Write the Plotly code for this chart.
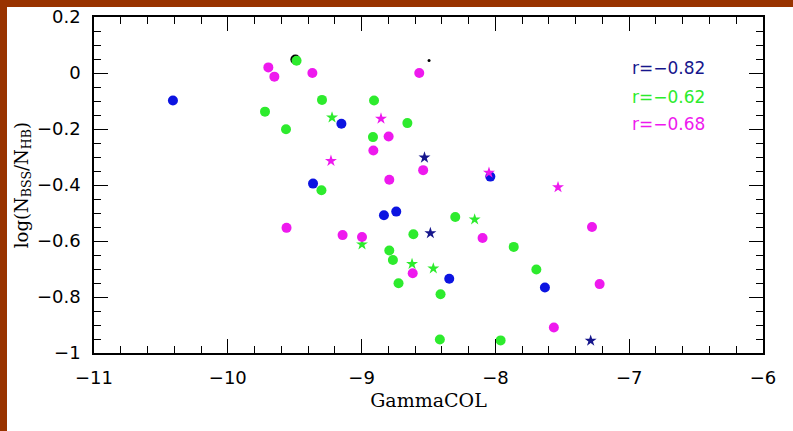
import plotly.graph_objects as go

# GammaCOL vs log(N_BSS/N_HB) for three samples; circles and stars per sample
blue_circ_x = [-10.41, -9.151, -9.363, -8.038, -8.833, -8.741, -8.345, -7.630]
blue_circ_y = [-0.098, -0.181, -0.395, -0.370, -0.508, -0.495, -0.735, -0.766]
blue_star_x = [-8.530, -8.486, -7.288]
blue_star_y = [-0.302, -0.572, -0.956]

green_circ_x = [-9.486, -9.296, -9.722, -9.565, -9.300, -8.907, -8.915, -8.658, -8.613,
                -8.793, -8.766, -8.724, -8.410, -8.415, -8.300, -7.863, -7.694, -7.961]
green_circ_y = [0.044, -0.096, -0.138, -0.201, -0.419, -0.098, -0.229, -0.179, -0.576,
                -0.634, -0.668, -0.751, -0.790, -0.952, -0.514, -0.621, -0.702, -0.955]
green_star_x = [-9.221, -8.997, -8.623, -8.464, -8.155]
green_star_y = [-0.159, -0.612, -0.682, -0.698, -0.523]

mag_circ_x = [-9.697, -9.652, -9.368, -8.798, -8.912, -8.793, -8.569, -8.540,
              -9.561, -9.142, -8.997, -8.618, -8.096, -7.278, -7.221, -7.563]
mag_circ_y = [0.020, -0.013, 0.000, -0.227, -0.277, -0.381, 0.000, -0.347,
              -0.553, -0.579, -0.586, -0.715, -0.589, -0.550, -0.754, -0.909]
mag_star_x = [-9.229, -8.855, -8.048, -7.532]
mag_star_y = [-0.314, -0.163, -0.356, -0.408]

black_circ_x = [-9.495]
black_circ_y = [0.048]
black_dot_x = [-8.496]
black_dot_y = [0.045]

corr_labels = ["r=\u22120.82", "r=\u22120.62", "r=\u22120.68"]
corr_label_y = [0.019, -0.084, -0.183]

x_ticks = [-11, -10, -9, -8, -7, -6]
y_ticks = [0.2, 0, -0.2, -0.4, -0.6, -0.8, -1]

BLUE = "rgb(12,20,225)"
NAVY = "rgb(22,22,140)"
GREEN = "rgb(45,235,45)"
MAGENTA = "rgb(238,25,238)"
BROWN = "rgb(153,51,0)"

fig = go.Figure()


def add(xs, ys, color, symbol, size):
    fig.add_trace(go.Scatter(
        x=xs, y=ys, mode="markers",
        marker=dict(color=color, symbol=symbol, size=size, line=dict(width=0)),
        showlegend=False, hoverinfo="x+y"))


add(black_circ_x, black_circ_y, "black", "circle", 10)
add(blue_circ_x, blue_circ_y, BLUE, "circle", 10)
add(blue_star_x, blue_star_y, NAVY, "star", 9)
add(green_circ_x, green_circ_y, GREEN, "circle", 10)
add(green_star_x, green_star_y, GREEN, "star", 9)
add(mag_circ_x, mag_circ_y, MAGENTA, "circle", 10)
add(mag_star_x, mag_star_y, MAGENTA, "star", 9)
add(black_dot_x, black_dot_y, "black", "circle", 3)

label_colors = [NAVY, GREEN, MAGENTA]
for txt, yy, col in zip(corr_labels, corr_label_y, label_colors):
    fig.add_annotation(x=-6.994, y=yy, text=txt, showarrow=False,
                       xanchor="left", yanchor="middle",
                       font=dict(family="DejaVu Sans", size=17, color=col))

axis_common = dict(
    showline=True, linecolor="black", linewidth=1.5, mirror="allticks",
    ticks="inside", ticklen=14, tickwidth=1.3, tickcolor="black",
    showgrid=False, zeroline=False,
    tickfont=dict(family="DejaVu Sans", size=18, color="black"),
)

fig.update_xaxes(
    range=[-11, -6], tickvals=x_ticks, ticklabelstandoff=8,
    minor=dict(dtick=0.2, ticks="inside", ticklen=7, tickcolor="black", tickwidth=1.2),
    title=dict(text="GammaCOL", standoff=6,
               font=dict(family="DejaVu Serif", size=19, color="black")),
    **axis_common)
fig.update_yaxes(
    range=[-1, 0.2], tickvals=y_ticks, ticklabelstandoff=8,
    minor=dict(dtick=0.05, ticks="inside", ticklen=7, tickcolor="black", tickwidth=1.2),
    title=dict(text="log(N<sub>BSS</sub>/N<sub>HB</sub>)", standoff=4,
               font=dict(family="DejaVu Serif", size=18, color="black")),
    **axis_common)

# brown frame strips along the top and left edges of the page
plot_w, plot_h = 669, 336
fig.add_shape(type="rect", xref="paper", yref="paper", layer="above",
              x0=-94 / plot_w, x1=-87 / plot_w, y0=-78 / plot_h, y1=(336 + 17) / plot_h,
              fillcolor=BROWN, line=dict(width=0))
fig.add_shape(type="rect", xref="paper", yref="paper", layer="above",
              x0=-94 / plot_w, x1=(669 + 30) / plot_w, y0=(336 + 10) / plot_h, y1=(336 + 17) / plot_h,
              fillcolor=BROWN, line=dict(width=0))

fig.update_layout(
    width=793, height=431,
    margin=dict(l=94, r=30, t=17, b=78, autoexpand=False),
    paper_bgcolor="white", plot_bgcolor="white",
    showlegend=False,
)

fig.write_html("out.html")
